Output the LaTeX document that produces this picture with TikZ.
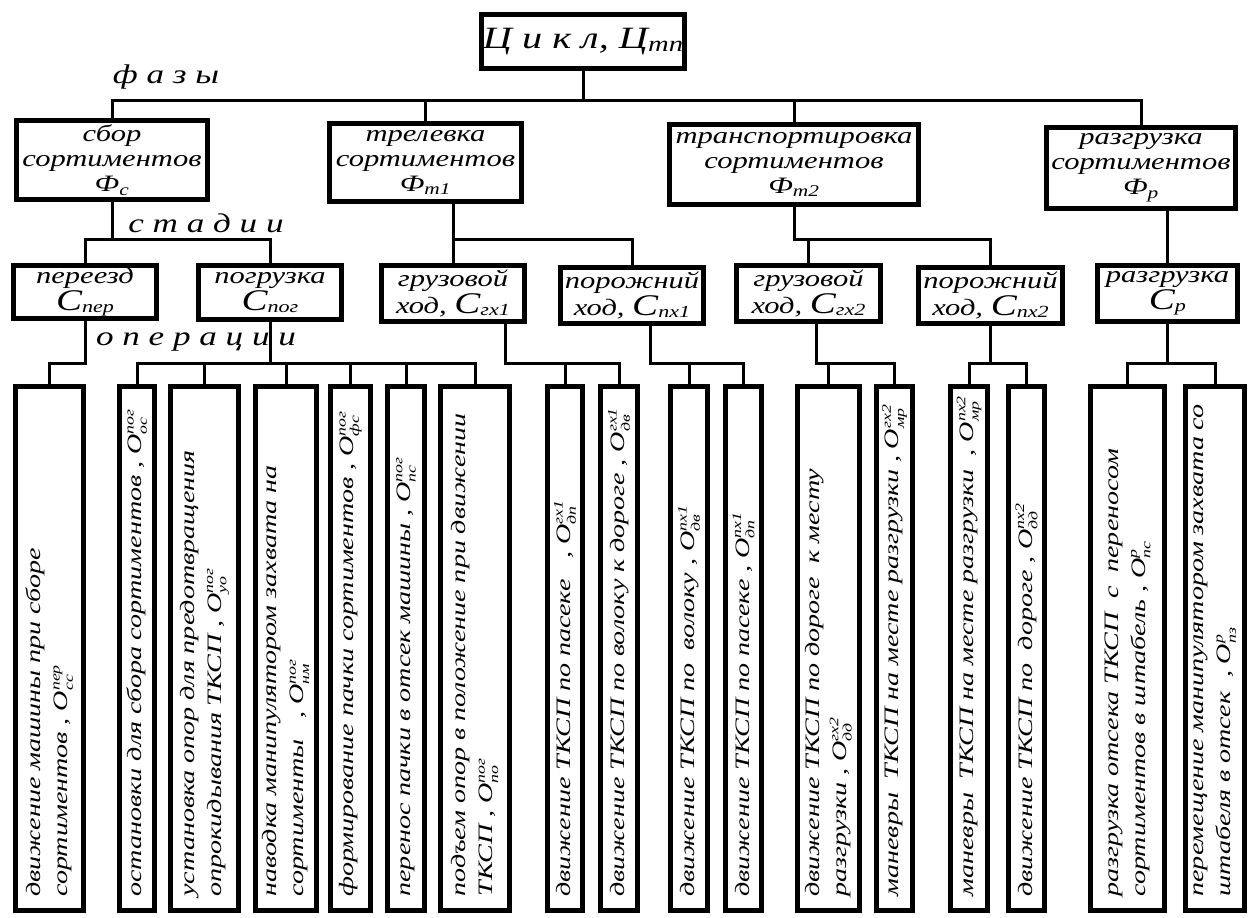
\documentclass[tikz,border=0pt]{standalone}
\usepackage{fontspec}
\setmainfont{Liberation Serif}[FakeStretch=1.3]
\newfontfamily\opfont{Liberation Serif}[FakeStretch=1.37]
\newcommand\Oq[2]{$\mbox{O}^{\mbox{\fontsize{13}{13}\selectfont #1}}_{\mbox{\fontsize{13}{13}\selectfont #2}}$}
\newcommand\Csub[1]{{\fontsize{30}{30}\selectfont C}\raisebox{-2pt}{\fontsize{17}{17}\selectfont #1}}
\newcommand\I{\hspace*{12pt}}
\tikzset{
  box/.style={draw, line width=5pt, align=center, inner sep=1pt, font=\itshape},
  phbox/.style={box, font=\itshape\fontsize{23.5}{25}\selectfont},
  stbox/.style={box, font=\itshape\fontsize{23.5}{27}\selectfont},
  opbox/.style={draw, line width=5pt, rotate=90, align=left, inner xsep=1pt, inner ysep=3pt,
    font=\opfont\itshape\fontsize{20.5}{27}\selectfont, text width=520pt, minimum width=524pt},
  conn/.style={line width=3pt},
  lab/.style={inner sep=0pt, font=\itshape\fontsize{27}{30}\selectfont},
}
\begin{document}
\begin{tikzpicture}[x=1pt,y=-1pt]
\useasboundingbox (0,0) rectangle (1250,918);
% top
\node[box, minimum width=197pt, minimum height=54pt, font=\itshape\fontsize{31}{34}\selectfont] (top) at (583,41.5)
  {Ц и к л, Ц\raisebox{-3pt}{\fontsize{22}{22}\selectfont тп}};
% phases
\node[phbox, minimum width=191pt, minimum height=79pt] (P1) at (112,160) {сбор\\сортиментов\\Ф\textsubscript{с}};
\node[phbox, minimum width=192pt, minimum height=78pt] (P2) at (425.5,162.5) {трелевка\\сортиментов\\Ф\textsubscript{т1}};
\node[phbox, minimum width=249pt, minimum height=80pt] (P3) at (794,164.5) {транспортировка\\сортиментов\\Ф\textsubscript{т2}};
\node[phbox, minimum width=189pt, minimum height=81pt] (P4) at (1141,168) {разгрузка\\сортиментов\\Ф\textsubscript{р}};
% stages
\node[stbox, minimum width=143pt, minimum height=53pt] (S1) at (85,292) {переезд\\\Csub{пер}};
\node[stbox, minimum width=143pt, minimum height=54pt] (S2) at (270,292.5) {погрузка\\\Csub{пог}};
\node[stbox, minimum width=143pt, minimum height=56pt] (S3) at (453,293.5) {грузовой\\ход, \Csub{гх1}};
\node[stbox, minimum width=143pt, minimum height=56pt] (S4) at (632,295.5) {порожний\\ход, \Csub{пх1}};
\node[stbox, minimum width=144pt, minimum height=56pt] (S5) at (808.5,293.5) {грузовой\\ход, \Csub{гх2}};
\node[stbox, minimum width=144pt, minimum height=56pt] (S6) at (990.5,295.5) {порожний\\ход, \Csub{пх2}};
\node[stbox, minimum width=140pt, minimum height=56pt] (S7) at (1167.5,293.5) {разгрузка\\\Csub{р}};
% operations
\node[opbox, minimum height=68pt] (o1) at (49.5,648.5) {\I движение машины при сборе\\\I сортиментов , \Oq{пер}{сс}};
\node[opbox, minimum height=35pt] (o2) at (137,648.5) {\I остановки для сбора сортиментов , \Oq{пог}{ос}};
\node[opbox, minimum height=68pt] (o3) at (204.5,648.5) {\I установка опор для предотвращения\\\I опрокидывания ТКСП , \Oq{пог}{уо}};
\node[opbox, minimum height=61pt] (o4) at (286,648.5) {\I наводка манипулятором захвата на\\\I сортименты \ \ , \Oq{пог}{нм}};
\node[opbox, minimum height=40pt] (o5) at (350.5,648.5) {\I формирование пачки сортиментов , \Oq{пог}{фс}};
\node[opbox, minimum height=37pt] (o6) at (406,648.5) {\I перенос пачки в отсек машины , \Oq{пог}{пс}};
\node[opbox, minimum height=69pt] (o7) at (475,648.5) {\I подъем опор в положение при движении\\\I ТКСП , \Oq{пог}{по}};
\node[opbox, minimum height=35pt] (o8) at (565,648.5) {\I движение ТКСП по пасеке \ \ , \Oq{гх1}{дп}};
\node[opbox, minimum height=37pt] (o9) at (619,648.5) {\I движение ТКСП по волоку к дороге , \Oq{гх1}{дв}};
\node[opbox, minimum height=37pt] (o10) at (689,648.5) {\I движение ТКСП по \ волоку , \Oq{пх1}{дв}};
\node[opbox, minimum height=36pt] (o11) at (743.5,648.5) {\I движение ТКСП по пасеке , \Oq{пх1}{дп}};
\node[opbox, minimum height=62pt] (o12) at (828.5,648.5) {\I движение ТКСП по дороге \ к месту\\\I разгрузки , \Oq{гх2}{дд}};
\node[opbox, minimum height=36pt] (o13) at (894.5,648.5) {\I маневры \ ТКСП на месте разгрузки , \Oq{гх2}{мр}};
\node[opbox, minimum height=37pt] (o14) at (969,648.5) {\I маневры \ ТКСП на месте разгрузки \ , \Oq{пх2}{мр}};
\node[opbox, minimum height=36pt] (o15) at (1026.5,648.5) {\I движение ТКСП по \ дороге , \Oq{пх2}{дд}};
\node[opbox, minimum height=74pt] (o16) at (1127.5,648.5) {\I разгрузка отсека ТКСП \ с \ переносом\\\I сортиментов в штабель , \Oq{р}{пс}};
\node[opbox, minimum height=59pt] (o17) at (1215,648.5) {\I перемещение манипулятором захвата со\\\I штабеля в отсек \ , \Oq{р}{пз}};
% level labels
\node[lab] (lf) at (166,77) {ф а з ы};
\node[lab] (ls) at (206,223) {с т а д и и};
\node[lab] (lo) at (196,342) {о п е р а ц и и};
% bus heights
\coordinate (bph) at (0,100);
\coordinate (bst) at (0,239);
\coordinate (bop) at (0,363);
% phase connectors
\draw[conn] (top.south) -- (top.south |- bph);
\draw[conn] (P1.north) |- (P4.north |- bph) -- (P4.north);
\draw[conn] (P2.north) -- (P2.north |- bph);
\draw[conn] (P3.north) -- (P3.north |- bph);
% stage connectors
\draw[conn] (P1.south) -- (P1.south |- bst);
\draw[conn] (S1.north) |- (S2.north |- bst) -- (S2.north);
\draw[conn] (S3.north |- P2.south) -- (S3.north);
\draw[conn] (S3.north |- bst) -| (S4.north);
\draw[conn] (P3.south) -- (P3.south |- bst) -| (S6.north);
\draw[conn] (S5.north) -- (S5.north |- bst);
\draw[conn] (S7.north |- P4.south) -- (S7.north);
% operation connectors
\draw[conn] (S1.south) -- (S1.south |- bop) -| (o1.east);
\draw[conn] (S2.south) -- (S2.south |- bop);
\draw[conn] (o2.east) |- (o7.east |- bop) -- (o7.east);
\foreach \o in {o3,o4,o5,o6} \draw[conn] (\o.east) -- (\o.east |- bop);
\coordinate (j3) at (505,363);
\draw[conn] (j3 |- S3.south) -- (j3) -| (o9.east);
\draw[conn] (o8.east) -- (o8.east |- bop);
\coordinate (j4) at (650,363);
\draw[conn] (j4 |- S4.south) -- (j4) -| (o11.east);
\draw[conn] (o10.east) -- (o10.east |- bop);
\coordinate (j5) at (816,363);
\draw[conn] (j5 |- S5.south) -- (j5) -| (o13.east);
\draw[conn] (o12.east) -- (o12.east |- bop);
\draw[conn] (S6.south) -- (S6.south |- bop);
\draw[conn] (o14.east) |- (o15.east |- bop) -- (o15.east);
\draw[conn] (S7.south) -- (S7.south |- bop);
\draw[conn] (o16.east) |- (o17.east |- bop) -- (o17.east);
\end{tikzpicture}
\end{document}
